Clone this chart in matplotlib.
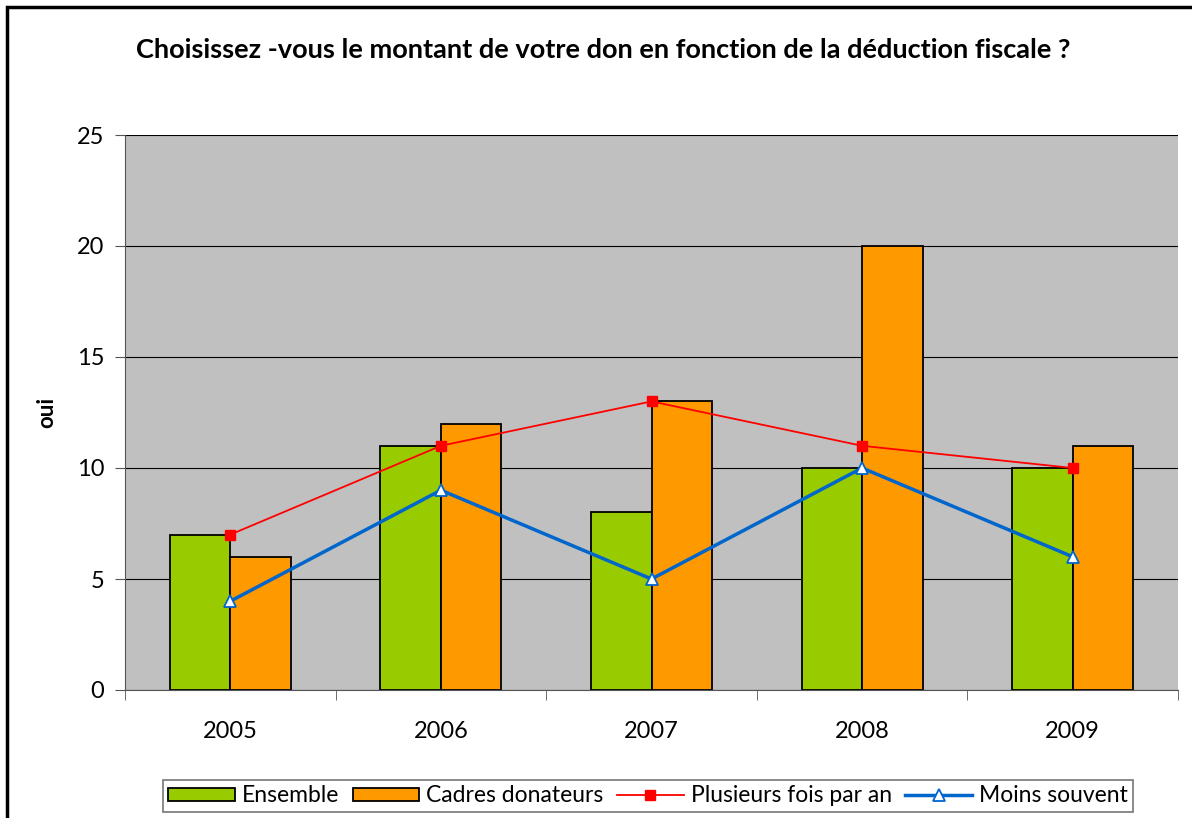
import numpy as np
import matplotlib.pyplot as plt
from matplotlib.patches import Rectangle

years = ['2005', '2006', '2007', '2008', '2009']
ensemble = [7, 11, 8, 10, 10]
cadres = [6, 12, 13, 20, 11]
plusieurs = [7, 11, 13, 11, 10]
moins = [4, 9, 5, 10, 6]

plt.rcParams['font.family'] = ['Lato', 'DejaVu Sans']

fig = plt.figure(figsize=(11.92, 8.18), dpi=100)
W, H = 1192, 818
ax = fig.add_axes([125 / W, 1 - 690 / H, (1178 - 125) / W, (690 - 135) / H])

# chart border (left & top visible, cut at right/bottom)
fig.patches.append(Rectangle((7 / W, -0.05), 1.2, 1 - 7 / H + 0.05, transform=fig.transFigure,
                             fill=False, edgecolor='black', linewidth=2.5))

x = np.arange(len(years))
bw = 0.2875
ax.set_facecolor('#C0C0C0')
b1 = ax.bar(x - bw / 2, ensemble, bw, color='#99CC00', edgecolor='black', linewidth=1.3, zorder=2, label='Ensemble')
b2 = ax.bar(x + bw / 2, cadres, bw, color='#FF9900', edgecolor='black', linewidth=1.3, zorder=2, label='Cadres donateurs')
l1, = ax.plot(x, plusieurs, color='#FF0000', linewidth=1.3, marker='s', markersize=7, zorder=3, label='Plusieurs fois par an')
l2, = ax.plot(x, moins, color='#0066CC', linewidth=2.5, marker='^', markersize=8, markerfacecolor='white',
              markeredgecolor='#0066CC', markeredgewidth=1.3, zorder=3, label='Moins souvent')

ax.set_xlim(-0.5, 4.5)
ax.set_ylim(0, 25)
ax.set_yticks([0, 5, 10, 15, 20, 25])
ax.yaxis.grid(True, color='black', linewidth=0.8)
ax.set_axisbelow(True)
ax.set_xticks(x)
ax.set_xticklabels(years)
ax.set_xticks(np.arange(-0.5, 5, 1), minor=True)
ax.tick_params(axis='x', which='major', length=0, pad=22, labelsize=17)
ax.tick_params(axis='x', which='minor', length=7, direction='out', color='#555555')
ax.tick_params(axis='y', length=7, direction='out', color='#555555', labelsize=17, pad=8)
for s in ['top', 'right']:
    ax.spines[s].set_visible(False)
for s in ['left', 'bottom']:
    ax.spines[s].set_color('#555555')

ax.set_ylabel('oui', fontsize=16, fontweight='bold', labelpad=14)
fig.text(603 / W, 1 - 50 / H, 'Choisissez -vous le montant de votre don en fonction de la déduction fiscale ?',
         ha='center', va='center', fontsize=19.5, fontweight='bold')

leg = fig.legend([b1, b2, l1, l2], ['Ensemble', 'Cadres donateurs', 'Plusieurs fois par an', 'Moins souvent'],
                 loc='center', bbox_to_anchor=(648 / W, 1 - 796 / H), ncol=4, frameon=True, fancybox=False,
                 edgecolor='#555555', fontsize=16.5, handlelength=2.9, handleheight=0.5, handletextpad=0.3,
                 columnspacing=0.6, borderpad=0.25)
leg.get_frame().set_linewidth(1.2)

fig.savefig('out.png', dpi=100)
